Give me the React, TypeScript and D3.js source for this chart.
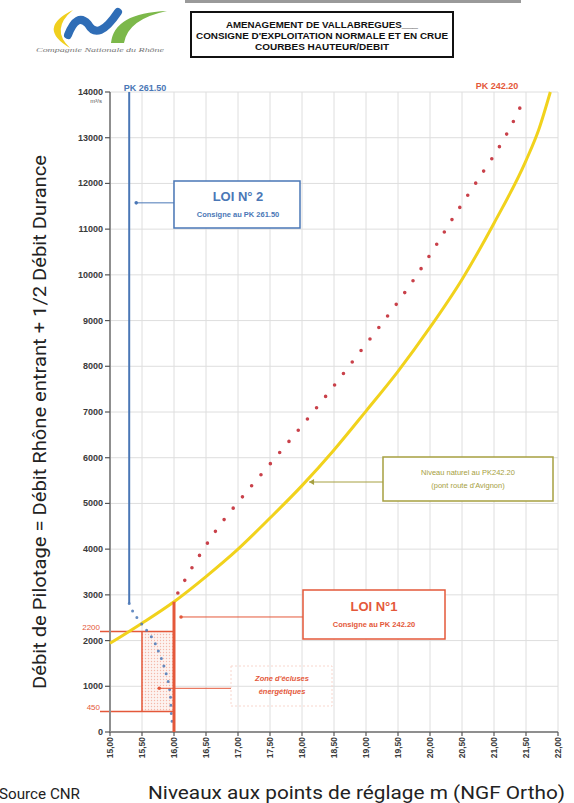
import React from "react";
import * as d3 from "d3";

const yTicks = [0, 1000, 2000, 3000, 4000, 5000, 6000, 7000, 8000, 9000, 10000, 11000, 12000, 13000, 14000];
const xTicks = [15, 15.5, 16, 16.5, 17, 17.5, 18, 18.5, 19, 19.5, 20, 20.5, 21, 21.5, 22];
const xTickLabels = ["15,00", "15,50", "16,00", "16,50", "17,00", "17,50", "18,00", "18,50", "19,00", "19,50", "20,00", "20,50", "21,00", "21,50", "22,00"];

// LOI N°2 (PK 261.50)
const loi2Vertical: [number, number][] = [[15.3, 14000], [15.3, 2810]];
const loi2Dotted: [number, number][] = [
  [15.3, 2810], [15.36, 2630], [15.46, 2430], [15.57, 2230], [15.68, 2010], [15.75, 1790],
  [15.81, 1580], [15.86, 1360], [15.91, 1100], [15.94, 850], [15.95, 630], [15.96, 370], [15.97, 230],
];
// LOI N°1 (PK 242.20)
const loi1Vertical: [number, number][] = [[16.0, 0], [16.0, 2850]];
const loi1Dotted: [number, number][] = [
  [16.06, 3040], [16.25, 3520], [16.47, 4020], [16.72, 4530], [17.15, 5280], [17.59, 6010],
  [18.04, 6770], [18.47, 7520], [18.89, 8286], [19.3, 9030], [19.69, 9781], [20.04, 10525],
  [20.38, 11290], [20.73, 12040], [21.08, 12794], [21.29, 13320], [21.46, 13820],
];
// Niveau naturel au PK242.20
const naturalLevel: [number, number][] = [
  [15.0, 1940], [15.5, 2380], [16.0, 2850], [16.5, 3400], [17.0, 4000], [17.5, 4680],
  [18.0, 5390], [18.5, 6170], [19.0, 7020], [19.5, 7890], [20.0, 8850], [20.5, 9900],
  [21.0, 11130], [21.5, 12500], [21.7, 13180], [21.88, 14000],
];
const zoneLevels = [15.5, 16.0];
const zoneFlows = [450, 2200];

const W = 574;
const H = 803;

export default function App() {
  const x = d3.scaleLinear().domain([15, 22]).range([110, 558]);
  const y = d3.scaleLinear().domain([0, 14000]).range([732, 92]);
  const line = d3.line<[number, number]>().x((d) => x(d[0])).y((d) => y(d[1]));
  const smooth = d3.line<[number, number]>().x((d) => x(d[0])).y((d) => y(d[1])).curve(d3.curveCatmullRom);
  const mono = d3.line<[number, number]>().x((d) => x(d[0])).y((d) => y(d[1])).curve(d3.curveMonotoneX);

  const blue = "#4a77b6";
  const red = "#e4583a";
  const redDot = "#c9414a";
  const yellow = "#f1d21c";
  const olive = "#a6a040";
  const tickFont = "'Liberation Sans Narrow', 'Liberation Sans', Arial, sans-serif";

  return (
    <svg width={W} height={H} style={{ position: "absolute", left: 0, top: 0, background: "#fff" }}>
      <defs>
        <pattern id="dots" width="3" height="3" patternUnits="userSpaceOnUse">
          <rect width="3" height="3" fill="#fdf3f0" />
          <circle cx="1.5" cy="1.5" r="0.7" fill="#f4b8a9" />
        </pattern>
      </defs>

      {/* header */}
      <rect x={185} y={0} width={336} height={3} fill="#9a9a9a" />
      <path d="M73,10 Q36,28 70,48 Q50,29 73,10 Z" fill="#f0cf1e" />
      <path d="M68,35 Q77,12 88,24 Q98,42 118,12" fill="none" stroke="#2f6db6" strokeWidth={8} strokeLinecap="round" />
      <path d="M111,43 Q114,13 167,11 Q128,19 124,43 Z" fill="#7cb84a" />
      <text x={100} y={52} fontFamily="'Liberation Serif', serif" fontStyle="italic" fontSize={7} fill="#777" textAnchor="middle" textLength={128} lengthAdjust="spacingAndGlyphs">
        Compagnie Nationale du Rhône
      </text>
      <rect x={191} y={12} width={262} height={45} fill="#fff" stroke="#111" strokeWidth={2} />
      <g fontFamily={tickFont} fontWeight="bold" fontSize={9.5} fill="#111" textAnchor="middle">
        <text x={322} y={28} textLength={192} lengthAdjust="spacingAndGlyphs">AMENAGEMENT DE VALLABREGUES___</text>
        <text x={322} y={39} textLength={252} lengthAdjust="spacingAndGlyphs">CONSIGNE D'EXPLOITATION NORMALE ET EN CRUE</text>
        <text x={322} y={50} textLength={134} lengthAdjust="spacingAndGlyphs">COURBES HAUTEUR/DEBIT</text>
      </g>

      {/* grid */}
      <g stroke="#dedede" strokeWidth={1}>
        {xTicks.map((t) => (
          <line key={"gx" + t} x1={x(t)} x2={x(t)} y1={y(14000)} y2={y(0)} />
        ))}
        {yTicks.map((t) => (
          <line key={"gy" + t} x1={x(15)} x2={x(22)} y1={y(t)} y2={y(t)} />
        ))}
      </g>

      {/* zone d'écluses */}
      <rect x={x(zoneLevels[0])} y={y(zoneFlows[1])} width={x(zoneLevels[1]) - x(zoneLevels[0])} height={y(zoneFlows[0]) - y(zoneFlows[1])} fill="url(#dots)" />
      <g stroke={red} strokeWidth={1.5}>
        <line x1={100} x2={x(16.0)} y1={y(zoneFlows[1])} y2={y(zoneFlows[1])} />
        <line x1={100} x2={x(16.0)} y1={y(zoneFlows[0])} y2={y(zoneFlows[0])} />
        <line x1={x(zoneLevels[0])} x2={x(zoneLevels[0])} y1={y(zoneFlows[1])} y2={y(zoneFlows[0])} />
      </g>

      {/* axes */}
      <line x1={x(15)} x2={x(15)} y1={y(14000)} y2={y(0) + 1} stroke="#8f8f8f" strokeWidth={2} />
      <line x1={x(15) - 1} x2={x(22)} y1={y(0)} y2={y(0)} stroke="#8f8f8f" strokeWidth={2} />
      <g stroke="#555" strokeWidth={1.2}>
        {yTicks.map((t) => (
          <line key={"ty" + t} x1={x(15) - 5} x2={x(15)} y1={y(t)} y2={y(t)} />
        ))}
        {xTicks.map((t) => (
          <line key={"tx" + t} x1={x(t)} x2={x(t)} y1={y(0)} y2={y(0) + 4} />
        ))}
      </g>
      <g fontFamily={tickFont} fontWeight="bold" fontSize={9} fill="#3a3a3a" textAnchor="end">
        {yTicks.map((t) => (
          <text key={"ly" + t} x={x(15) - 7} y={y(t) + 3}>{t}</text>
        ))}
        {xTicks.map((t, i) => (
          <text key={"lx" + t} fontSize={8.5} transform={`translate(${x(t) + 3},${y(0) + 5}) rotate(-90)`}>{xTickLabels[i]}</text>
        ))}
      </g>
      <text x={x(15) - 8} y={y(14000) + 11} fontFamily={tickFont} fontSize={6} fill="#555" textAnchor="end">m³/s</text>
      <g fontFamily={tickFont} fontSize={8} fill={red} textAnchor="end">
        <text x={100} y={y(zoneFlows[1]) - 1}>2200</text>
        <text x={100} y={y(zoneFlows[0]) - 1}>450</text>
      </g>

      {/* natural level (yellow) */}
      <path d={mono(naturalLevel) || ""} fill="none" stroke={yellow} strokeWidth={3} />

      {/* LOI 2 */}
      <path d={line(loi2Vertical) || ""} fill="none" stroke={blue} strokeWidth={2} />
      <path d={smooth(loi2Dotted) || ""} fill="none" stroke={blue} strokeWidth={3} strokeDasharray="0 8" strokeLinecap="round" opacity={0.85} />

      {/* LOI 1 */}
      <path d={line(loi1Vertical) || ""} fill="none" stroke={red} strokeWidth={3} />
      <path d={smooth(loi1Dotted) || ""} fill="none" stroke={redDot} strokeWidth={3.6} strokeDasharray="0 14.5" strokeLinecap="round" />

      {/* PK labels */}
      <text x={145} y={91} fontFamily="'Liberation Sans', Arial, sans-serif" fontWeight="bold" fontSize={9} fill={blue} textAnchor="middle">PK 261.50</text>
      <text x={497} y={89} fontFamily="'Liberation Sans', Arial, sans-serif" fontWeight="bold" fontSize={9} fill={red} textAnchor="middle">PK 242.20</text>

      {/* LOI 2 annotation */}
      <line x1={x(15.41)} x2={174} y1={y(11575)} y2={y(11575)} stroke={blue} strokeWidth={1} />
      <circle cx={x(15.41)} cy={y(11575)} r={1.8} fill={blue} />
      <rect x={174} y={181} width={126} height={47} fill="#fff" stroke={blue} strokeWidth={1.5} />
      <text x={238} y={201} fontFamily="'Liberation Sans', Arial, sans-serif" fontWeight="bold" fontSize={13} fill={blue} textAnchor="middle">LOI  N° 2</text>
      <text x={238} y={217} fontFamily="'Liberation Sans', Arial, sans-serif" fontWeight="bold" fontSize={7.5} fill={blue} textAnchor="middle">Consigne au PK 261.50</text>

      {/* LOI 1 annotation */}
      <line x1={x(16.11)} x2={303} y1={y(2516)} y2={y(2516)} stroke={red} strokeWidth={1} />
      <circle cx={x(16.11)} cy={y(2516)} r={1.8} fill={red} />
      <rect x={303} y={590} width={142} height={49} fill="#fff" stroke={red} strokeWidth={1.5} />
      <text x={374} y={611} fontFamily="'Liberation Sans', Arial, sans-serif" fontWeight="bold" fontSize={13} fill={red} textAnchor="middle">LOI N°1</text>
      <text x={374} y={627} fontFamily="'Liberation Sans', Arial, sans-serif" fontWeight="bold" fontSize={7.5} fill={red} textAnchor="middle">Consigne au PK 242.20</text>

      {/* natural level annotation */}
      <line x1={x(18.11)} x2={383} y1={482} y2={482} stroke={olive} strokeWidth={1} />
      <path d={`M${x(18.11)},${482} l5,-3 l0,6 Z`} fill={olive} />
      <rect x={383} y={457} width={170} height={44} fill="#fff" stroke={olive} strokeWidth={1.5} />
      <text x={468} y={475} fontFamily="'Liberation Sans', Arial, sans-serif" fontSize={7.5} fill={olive} textAnchor="middle">Niveau naturel au PK242.20</text>
      <text x={468} y={488} fontFamily="'Liberation Sans', Arial, sans-serif" fontSize={7.5} fill={olive} textAnchor="middle">(pont route d'Avignon)</text>

      {/* zone annotation */}
      <line x1={x(15.77)} x2={231} y1={y(956)} y2={y(956)} stroke={red} strokeWidth={1} />
      <circle cx={x(15.77)} cy={y(956)} r={1.8} fill={red} />
      <rect x={231} y={666} width={101} height={40} fill="none" stroke="#f8d6cd" strokeWidth={1} strokeDasharray="2 2" />
      <text x={282} y={681} fontFamily="'Liberation Sans', Arial, sans-serif" fontStyle="italic" fontWeight="bold" fontSize={7.5} fill={red} textAnchor="middle">Zone d'écluses</text>
      <text x={282} y={694} fontFamily="'Liberation Sans', Arial, sans-serif" fontStyle="italic" fontWeight="bold" fontSize={7.5} fill={red} textAnchor="middle">énergétiques</text>

      {/* titles */}
      <text transform="translate(46,422) rotate(-90)" fontFamily="Roboto, sans-serif" fontSize={18} fill="#222" textAnchor="middle" textLength={534} lengthAdjust="spacingAndGlyphs">
        Débit de Pilotage = Débit Rhône entrant + 1/2 Débit Durance
      </text>
      <text x={148} y={799} fontFamily="Roboto, sans-serif" fontSize={18} fill="#222" textLength={417} lengthAdjust="spacingAndGlyphs">
        Niveaux aux points de réglage m (NGF Ortho)
      </text>
      <text x={-1} y={799} fontFamily="Roboto, sans-serif" fontSize={14} fill="#222" textLength={81} lengthAdjust="spacingAndGlyphs">
        Source CNR
      </text>
    </svg>
  );
}
